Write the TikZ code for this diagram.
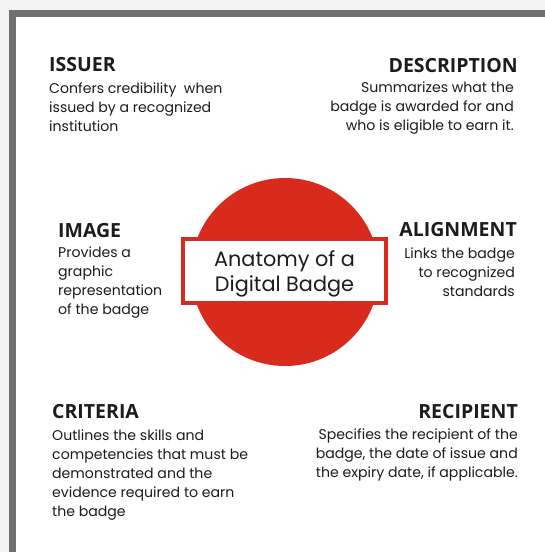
\documentclass[tikz,border=0pt]{standalone}
\usepackage{fontspec}
\setmainfont{Poppins}
\newfontfamily\headfont{Open Sans}
\definecolor{pagebg}{HTML}{F4F4F4}
\definecolor{framegray}{HTML}{707070}
\definecolor{badgered}{HTML}{D92A1E}
\definecolor{ink}{HTML}{1C1C1C}
\tikzset{
  head/.style={inner sep=0pt, text=ink, font=\headfont\bfseries\fontsize{19.5}{22}\selectfont},
  blurb/.style={inner sep=0pt, text=ink, font=\fontsize{14.1}{19.2}\selectfont},
}
\begin{document}
\begin{tikzpicture}[x=1pt,y=-1pt]
\useasboundingbox (0,0) rectangle (545,552);
\fill[pagebg] (0,0) rectangle (545,552);
\fill[framegray] (9,10) rectangle (545,552);
\fill[white] (16,17) rectangle (545,552);

% the badge
\node[circle, fill=badgered, inner sep=0pt, minimum size=188pt] (badge) at (285,272) {};
\node[draw=badgered, line width=4pt, fill=white, minimum width=203pt, minimum height=64pt] (badgename) at (284.5,271) {};
\node[text=ink, align=center, font=\fontsize{20.8}{25}\selectfont] (badgelabel) at ([yshift=-3pt]badgename)
  {Anatomy of a\\Digital Badge};

% top row (base of a text block = its last line)
\node[head, anchor=base west] (issuer) at (49,71) {ISSUER};
\node[blurb, anchor=base west, align=left] (issuertxt) at ([yshift=-60.4pt]issuer.base west)
  {Confers credibility\ \ when\\issued by a recognized\\institution};
\node[head, anchor=base east] (descr) at (518,72) {DESCRIPTION};
\node[blurb, anchor=base east, align=right] (descrtxt) at ([xshift=-4pt,yshift=-58.4pt]descr.base east)
  {Summarizes what the\\badge is awarded for and\\who is eligible to earn it.};

% middle row
\node[head, anchor=base west] (image) at (58,237) {IMAGE};
\node[blurb, anchor=base west, align=left] (imagetxt) at ([yshift=-77.6pt]image.base west)
  {Provides a\\graphic\\representation\\of the badge};
\node[head, anchor=base east] (align) at (517,236) {ALIGNMENT};
\node[blurb, anchor=base east, align=right] (aligntxt) at ([xshift=-2pt,yshift=-60.4pt]align.base east)
  {Links the badge\\to recognized\\standards};

% bottom row
\node[head, anchor=base west] (criteria) at (52,418) {CRITERIA};
\node[blurb, anchor=base west, align=left] (criteriatxt) at ([yshift=-98.8pt]criteria.base west)
  {Outlines the skills and\\competencies that must be\\demonstrated and the\\evidence required to earn\\the badge};
\node[head, anchor=base east] (recip) at (518,418) {RECIPIENT};
\node[blurb, anchor=base east, align=right] (reciptxt) at ([yshift=-59.4pt]recip.base east)
  {Specifies the recipient of the\\badge, the date of issue and\\the expiry date, if applicable.};
\end{tikzpicture}
\end{document}
